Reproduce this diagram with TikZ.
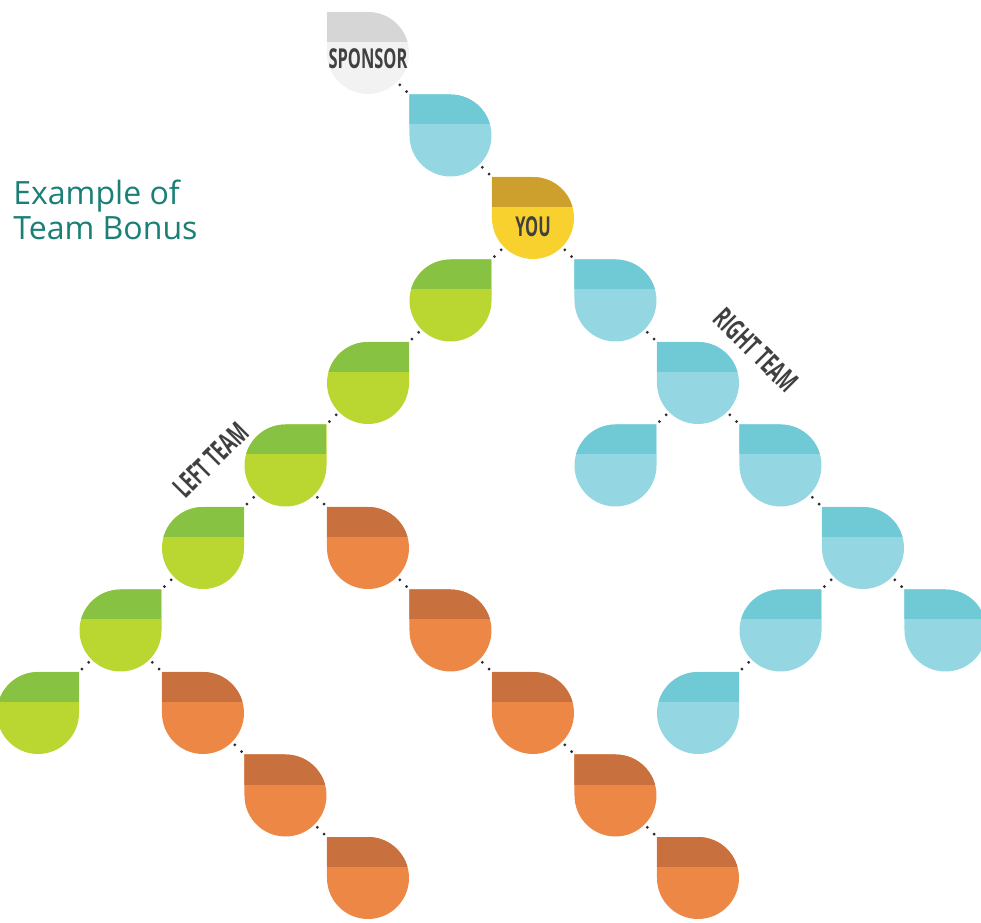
\documentclass[tikz,border=0pt]{standalone}
\usepackage{graphicx}
\usepackage{fontspec}
\setmainfont{Open Sans}

\definecolor{graytop}{HTML}{D6D6D6}
\definecolor{graybot}{HTML}{F2F2F2}
\definecolor{cyantop}{HTML}{6FCAD6}
\definecolor{cyanbot}{HTML}{94D7E3}
\definecolor{yellowtop}{HTML}{CDA02D}
\definecolor{yellowbot}{HTML}{F9D12E}
\definecolor{greentop}{HTML}{87C242}
\definecolor{greenbot}{HTML}{BAD630}
\definecolor{orangetop}{HTML}{C8703E}
\definecolor{orangebot}{HTML}{ED8746}
\definecolor{labelgray}{HTML}{404040}
\definecolor{dotgray}{HTML}{2E2E2E}
\definecolor{titleteal}{HTML}{1A7F76}

\def \cellsize {82.5}
\def \dropr {41}
\def \bandh {30}
% drop with its square corner at the top left / top right
\def \leftdrop {(path picture bounding box.north west) -- ++(\dropr,0) arc[start angle=90, end angle=-180, radius=\dropr] -- cycle}
\def \rightdrop {(path picture bounding box.north east) -- ++(0,-\dropr) arc[start angle=0, end angle=-270, radius=\dropr] -- cycle}
\def \band {(path picture bounding box.north west) rectangle ++(2*\dropr,-\bandh)}
\newcommand\teamtext[1]{\scalebox{0.6}[1]{\bfseries #1}}
\newcommand\droptext[2]{\raisebox{#1}[0pt][0pt]{\makebox[0pt]{\teamtext{#2}}}}

\tikzset{
  cell/.style={minimum size=2.05cm, inner sep=0pt, outer sep=0pt},
  drop/.style n args={3}{cell, path picture={
      \fill[#3] #1;
      \begin{scope}
        \clip #1;
        \fill[#2] \band;
      \end{scope}}},
  linkdots/.style={draw=dotgray, line width=2.2pt, line cap=round,
    dash pattern=on 0pt off 6.8pt, dash phase=3.95pt, shorten <=1.025cm},
  droplabel/.style={font=\fontsize{19.5}{19.5}\selectfont, text=labelgray},
  teamlabel/.style={font=\fontsize{20.5}{20.5}\selectfont, text=labelgray},
  title/.style={align=left, inner sep=0pt, text=titleteal, font=\fontsize{22.8}{25}\selectfont},
}

\begin{document}
\begin{tikzpicture}[x=0.025cm, y=0.025cm]
\useasboundingbox (0,0) rectangle (981,-922);

% Top of the line
\node[drop={\leftdrop}{graytop}{graybot}, droplabel] (sponsor) at (38+4*\cellsize,-53) {\droptext{-10.7pt}{SPONSOR}};
\node[drop={\leftdrop}{cyantop}{cyanbot}] (up) at (38+5*\cellsize,-53-\cellsize) {};
\node[drop={\leftdrop}{yellowtop}{yellowbot}, droplabel] (you) at (38+6*\cellsize,-53-2*\cellsize) {\droptext{-13pt}{YOU}};

% The two teams: column/row/corner/colours/name
\foreach \c/\r/\sd/\ct/\cb/\name in {
  5/3/\rightdrop/greentop/greenbot/lt1, 4/4/\rightdrop/greentop/greenbot/lt2,
  3/5/\rightdrop/greentop/greenbot/lt3, 2/6/\rightdrop/greentop/greenbot/lt4,
  1/7/\rightdrop/greentop/greenbot/lt5, 0/8/\rightdrop/greentop/greenbot/lt6,
  4/6/\leftdrop/orangetop/orangebot/oa1, 5/7/\leftdrop/orangetop/orangebot/oa2,
  6/8/\leftdrop/orangetop/orangebot/oa3, 7/9/\leftdrop/orangetop/orangebot/oa4,
  8/10/\leftdrop/orangetop/orangebot/oa5,
  2/8/\leftdrop/orangetop/orangebot/ob1, 3/9/\leftdrop/orangetop/orangebot/ob2,
  4/10/\leftdrop/orangetop/orangebot/ob3,
  7/3/\leftdrop/cyantop/cyanbot/rt1, 8/4/\leftdrop/cyantop/cyanbot/rt2,
  9/5/\leftdrop/cyantop/cyanbot/rt3, 10/6/\leftdrop/cyantop/cyanbot/rt4,
  11/7/\leftdrop/cyantop/cyanbot/rt5,
  7/5/\rightdrop/cyantop/cyanbot/rs1, 9/7/\rightdrop/cyantop/cyanbot/rs2,
  8/8/\rightdrop/cyantop/cyanbot/rs3}
{
\node[drop={\sd}{\ct}{\cb}] (\name) at (38+\c*\cellsize,-53-\r*\cellsize) {};
}

% Dots down to the right
\foreach \a/\b in {sponsor/up, up/you, you/rt1, rt1/rt2, rt2/rt3, rt3/rt4, rt4/rt5,
  lt3/oa1, oa1/oa2, oa2/oa3, oa3/oa4, oa4/oa5, lt5/ob1, ob1/ob2, ob2/ob3}
\draw[linkdots] (\a.center) -- (\b.north west);
% Dots down to the left
\foreach \a/\b in {you/lt1, lt1/lt2, lt2/lt3, lt3/lt4, lt4/lt5, lt5/lt6,
  rt2/rs1, rt4/rs2, rs2/rs3}
\draw[linkdots] (\a.center) -- (\b.north east);

% Labels
\node[title, anchor=north west] (title) at (13,-180) {Example of\\Team Bonus};
\node[teamlabel, rotate=45] (leftteam) at (211,-460) {\teamtext{LEFT TEAM}};
\node[teamlabel, rotate=-45] (rightteam) at (756,-350) {\teamtext{RIGHT TEAM}};
\end{tikzpicture}
\end{document}
